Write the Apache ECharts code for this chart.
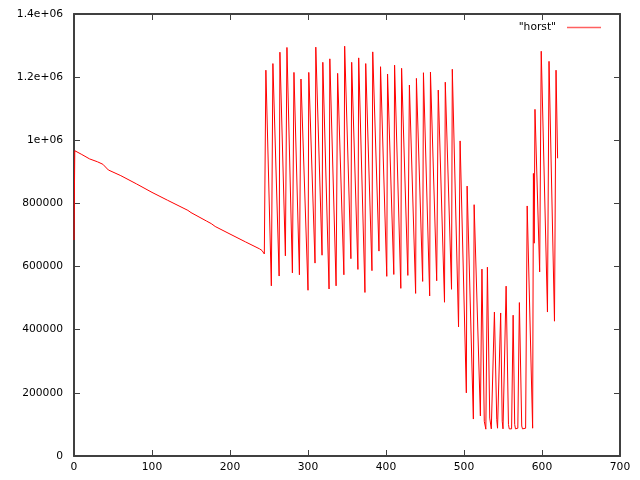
<!DOCTYPE html>
<html>
<head>
<meta charset="utf-8">
<script src="https://cdn.jsdelivr.net/npm/echarts@6/dist/echarts.min.js"></script>
<style>html,body{margin:0;padding:0;background:#fff}#c{width:640px;height:480px}</style>
</head>
<body>
<div id="c"></div>
<script>
var seriesName = '"horst"';
var xTicks = [0, 100, 200, 300, 400, 500, 600, 700];
var yTickLabels = {0: '0', 200000: '200000', 400000: '400000', 600000: '600000', 800000: '800000', 1000000: '1e+06', 1200000: '1.2e+06', 1400000: '1.4e+06'};

var xs = [0, 1, 10, 20, 30, 37, 44, 60, 80, 100, 120, 146, 150, 170, 176, 181, 200, 220, 238, 241, 244,
  246, 253, 255, 263, 264, 271, 273, 280, 282, 289, 291, 300, 301, 309, 310, 318, 319, 327, 328, 336, 338, 346, 347, 355, 356, 364, 365, 373, 374,
  382, 383, 391, 393, 401, 402, 410, 411, 419, 420, 428, 430, 438, 439, 447, 448, 456, 457, 465, 467, 475, 476, 484, 485, 493, 495,
  503, 504, 512, 513, 521, 523, 526, 528, 530, 533, 535, 537, 539, 542, 543, 545, 547, 549, 550, 552, 554, 557, 558, 561, 563,
  565, 566, 569, 571, 574, 575, 579, 581, 588, 589, 590, 591, 597, 599, 607, 609, 616, 618, 620];
var ys = [684000, 967000, 955000, 941000, 932000, 924000, 906000, 888000, 862000, 835000, 810000, 778000, 771000, 744000, 736000, 727000, 703000, 678000, 656000, 651000, 640000,
  1222000, 539000, 1243000, 570000, 1279000, 634000, 1294000, 580000, 1215000, 574000, 1194000, 525000, 1215000, 611000, 1295000, 636000, 1247000, 529000, 1258000, 539000, 1212000, 574000, 1298000, 625000, 1247000, 591000, 1261000, 518000, 1243000,
  587000, 1280000, 649000, 1233000, 569000, 1210000, 575000, 1238000, 531000, 1228000, 572000, 1175000, 515000, 1196000, 553000, 1214000, 507000, 1216000, 555000, 1159000, 487000, 1184000, 528000, 1225000, 409000, 998000,
  200000, 855000, 117000, 796000, 127000, 592000, 110000, 85000, 598000, 120000, 86000, 86000, 456000, 115000, 88000, 86000, 453000, 110000, 86000, 88000, 538000, 100000, 86000, 86000, 446000,
  100000, 86000, 88000, 486000, 95000, 86000, 88000, 792000, 88000, 895000, 674000, 1098000, 583000, 1282000, 456000, 1250000, 427000, 1222000, 943000];

var data = xs.map(function (x, i) { return [x, ys[i]]; });

var frameColor = '#404040';
var labelStyle = { color: '#000', fontFamily: 'DejaVu Sans', fontSize: 10.7 };

var chart = echarts.init(document.getElementById('c'), null, { renderer: 'canvas' });
chart.setOption({
  animation: false,
  backgroundColor: '#fff',
  grid: { left: 74, right: 20, top: 14, bottom: 24, containLabel: false },
  legend: {
    data: [seriesName],
    right: 34,
    top: 17,
    align: 'right',
    icon: 'rect',
    itemWidth: 34,
    itemHeight: 1.5,
    itemStyle: { color: '#ff6060' },
    textStyle: { color: '#000', fontFamily: 'DejaVu Sans', fontSize: 10.7, padding: [0, 6, 0, 0] }
  },
  xAxis: [
    {
      type: 'value', min: 0, max: 700, interval: 100, position: 'bottom',
      axisLine: { show: true, onZero: false, lineStyle: { color: frameColor, width: 2 } },
      axisTick: { show: true, inside: true, length: 6, lineStyle: { color: frameColor, width: 1 } },
      axisLabel: Object.assign({ margin: 6 }, labelStyle),
      splitLine: { show: false }
    },
    {
      type: 'value', min: 0, max: 700, interval: 100, position: 'top',
      axisLine: { show: true, onZero: false, lineStyle: { color: frameColor, width: 2 } },
      axisTick: { show: true, inside: true, length: 6, lineStyle: { color: frameColor, width: 1 } },
      axisLabel: { show: false },
      splitLine: { show: false }
    }
  ],
  yAxis: [
    {
      type: 'value', min: 0, max: 1400000, interval: 200000, position: 'left',
      axisLine: { show: true, onZero: false, lineStyle: { color: frameColor, width: 2 } },
      axisTick: { show: true, inside: true, length: 6, lineStyle: { color: frameColor, width: 1 } },
      axisLabel: Object.assign({ margin: 11, formatter: function (v) { return yTickLabels[v] !== undefined ? yTickLabels[v] : String(v); } }, labelStyle),
      splitLine: { show: false }
    },
    {
      type: 'value', min: 0, max: 1400000, interval: 200000, position: 'right',
      axisLine: { show: true, onZero: false, lineStyle: { color: frameColor, width: 2 } },
      axisTick: { show: true, inside: true, length: 6, lineStyle: { color: frameColor, width: 1 } },
      axisLabel: { show: false },
      splitLine: { show: false }
    }
  ],
  series: [{
    name: seriesName,
    type: 'line',
    data: data,
    xAxisIndex: 0,
    yAxisIndex: 0,
    showSymbol: false,
    symbol: 'none',
    lineStyle: { color: '#ff0000', width: 1 },
    itemStyle: { color: '#ff0000' }
  }]
});
</script>
</body>
</html>
